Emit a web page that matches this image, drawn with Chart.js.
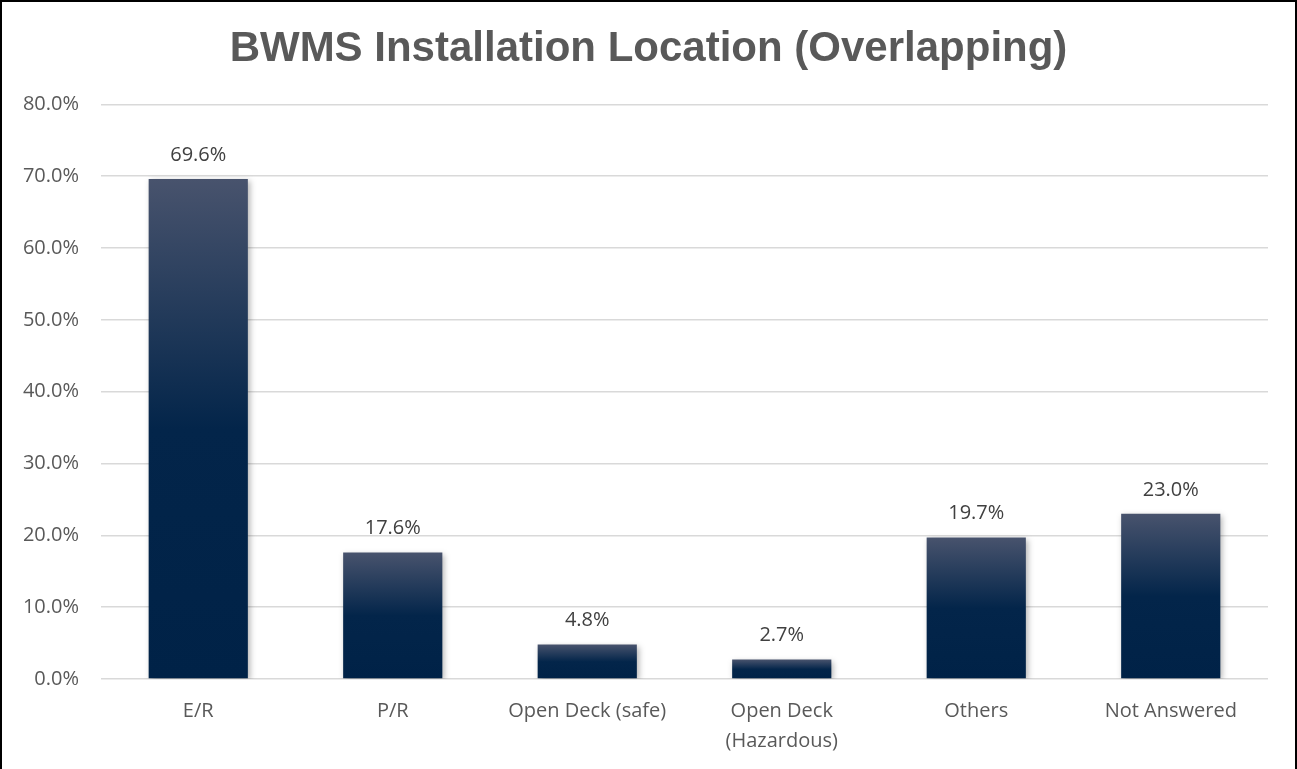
<!DOCTYPE html>
<html>
<head>
<meta charset="utf-8">
<script src="https://cdn.jsdelivr.net/npm/chart.js@4.4.1/dist/chart.umd.min.js"></script>
<style>
  body { margin: 0; background: #fff; }
  #wrap { position: relative; width: 1297px; height: 769px; }
  #marco { position: absolute; left: 0; top: 0; width: 1297px; height: 769px; box-sizing: border-box;
           border: 2px solid #000; border-bottom: none; pointer-events: none; }
</style>
</head>
<body>
<div id="wrap">
  <canvas id="grafico" width="1297" height="769"></canvas>
  <div id="marco"></div>
</div>
<script>
// Datos del gráfico
const categorias = ["E/R", "P/R", "Open Deck (safe)", ["Open Deck", "(Hazardous)"], "Others", "Not Answered"];
const porcentajes = [69.6, 17.6, 4.8, 2.7, 19.7, 23.0];
const ticksY = [0, 10, 20, 30, 40, 50, 60, 70, 80];

const titulo = "BWMS Installation Location (Overlapping)";
const fuente = "'Open Sans', 'DejaVu Sans', sans-serif";

// Degradado de cada barra (de arriba hacia abajo)
function degradado(context) {
    const chart = context.chart;
    const y = chart.scales.y;
    if (!y || context.dataIndex === undefined) return "#012449";
    const top = y.getPixelForValue(porcentajes[context.dataIndex]);
    const base = y.getPixelForValue(0);
    if (!isFinite(top) || !isFinite(base) || top === base) return "#012449";
    const g = chart.ctx.createLinearGradient(0, top, 0, base);
    g.addColorStop(0, "#48536d");
    g.addColorStop(0.5, "#03254a");
    g.addColorStop(1, "#002247");
    return g;
}

// Centrar el título en todo el ancho del lienzo
const tituloCentrado = {
    id: "tituloCentrado",
    afterLayout(chart) {
        if (chart.titleBlock) {
            chart.titleBlock.left = 0;
            chart.titleBlock.right = chart.width;
            chart.titleBlock.width = chart.width;
        }
    }
};

// Sombra suave de las barras
const sombra = {
    id: "sombra",
    beforeDatasetDraw(chart) {
        const ctx = chart.ctx;
        ctx.save();
        ctx.shadowColor = "rgba(0,0,0,0.30)";
        ctx.shadowBlur = 6;
        ctx.shadowOffsetX = 2;
        ctx.shadowOffsetY = 2;
    },
    afterDatasetDraw(chart) {
        chart.ctx.restore();
    }
};

// Etiquetas de valor sobre las barras
const etiquetas = {
    id: "etiquetas",
    afterDatasetsDraw(chart) {
        const ctx = chart.ctx;
        const meta = chart.getDatasetMeta(0);
        ctx.save();
        ctx.font = "20px " + fuente;
        ctx.fillStyle = "#404040";
        ctx.textAlign = "center";
        ctx.textBaseline = "middle";
        meta.data.forEach((bar, i) => {
            ctx.fillText(porcentajes[i].toFixed(1) + "%", bar.x, bar.y - 24);
        });
        ctx.restore();
    }
};

const config = {
    type: "bar",
    data: {
        labels: categorias,
        datasets: [{
            data: porcentajes,
            backgroundColor: degradado,
            borderWidth: 0,
            categoryPercentage: 1,
            barPercentage: 0.51
        }]
    },
    options: {
        responsive: false,
        animation: false,
        layout: { padding: { left: 0, right: 29, top: 0, bottom: 0 } },
        plugins: {
            legend: { display: false },
            tooltip: { enabled: false },
            title: {
                display: true,
                text: titulo,
                color: "#595959",
                font: { family: "'Liberation Sans', Arial, sans-serif", size: 42, weight: "bold" },
                padding: { top: 24, bottom: 30 }
            }
        },
        scales: {
            x: {
                grid: { display: false },
                border: { display: false },
                ticks: {
                    color: "#595959",
                    font: { family: fuente, size: 20, lineHeight: 1.5 },
                    padding: 9,
                    maxRotation: 0,
                    autoSkip: false
                },
                afterFit(scale) { scale.height = 90; }
            },
            y: {
                min: 0,
                max: 80,
                afterBuildTicks(scale) { scale.ticks = ticksY.map(v => ({ value: v })); },
                grid: { color: "#d9d9d9", lineWidth: 1.5, drawTicks: false },
                border: { display: false },
                ticks: {
                    color: "#595959",
                    font: { family: fuente, size: 20 },
                    padding: 22,
                    callback: (v) => v.toFixed(1) + "%"
                },
                afterFit(scale) { scale.width = 101; }
            }
        }
    },
    plugins: [tituloCentrado, sombra, etiquetas]
};

new Chart(document.getElementById("grafico").getContext("2d"), config);
</script>
</body>
</html>
